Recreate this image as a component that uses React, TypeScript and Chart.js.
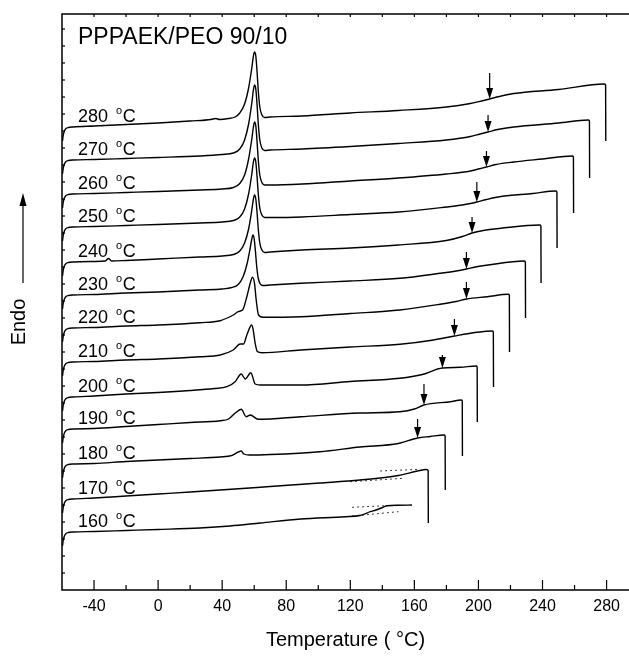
import React, { useEffect, useRef } from 'react';
import { Chart, registerables } from 'chart.js';

Chart.register(...registerables);

const FONT = '"Liberation Sans", Arial, Helvetica, sans-serif';

type Pt = [number, number];

// Annealing temperatures (°C), top to bottom
const annealTemps = [280, 270, 260, 250, 240, 230, 220, 210, 200, 190, 180, 170, 160];

// DSC heating curves: [temperature °C, heat flow (a.u., endo up, shifted for clarity)]
const c280: Pt[] = [[-59.7,449],[-59.2,455],[-58.5,459],[-57.5,461.5],[-56,462.5],[-53,463],[-40,464],[-20,465.5],[0,467],[20,469],[33,470.5],[36,471.5],[38.5,470.5],[44,471.5],[48,473],[51,477],[54,486],[56.5,502],[58.5,522],[59.5,534],[60.2,538],[61,534],[61.8,518],[62.6,498],[63.5,483],[64.8,475],[66.5,472.5],[70,473],[90,474],[120,477],[150,479.5],[180,483],[195,486.5],[202,489],[207,491],[213,493.5],[222,496.5],[250,500.5],[278.5,506],[279.4,505],[279.5,449]];
const c270: Pt[] = [[-59.7,416],[-59.2,422],[-58.5,426],[-57.5,428.5],[-56,429.5],[-53,430],[-40,430.5],[-20,431.5],[0,432.5],[26,434],[40,435.5],[47,437],[51,441],[54,450],[56.5,466],[58.5,487],[59.5,500],[60.2,505],[61,501],[61.8,485],[62.6,465],[63.5,450],[64.8,442],[66.5,439.5],[70,440],[90,441],[120,443.5],[150,446.5],[180,450],[195,453.5],[201,456],[206,458],[212,460.5],[222,463],[250,467],[268.5,470],[269.3,469],[269.4,412]];
const c260: Pt[] = [[-59.7,382],[-59.2,388],[-58.5,392],[-57.5,394.5],[-56,395.5],[-53,396],[-40,396.5],[-20,397.5],[0,398.5],[26,400],[40,401],[47,402.5],[51,406.5],[54,415],[56.5,431],[58.5,451],[59.5,463],[60.2,468],[61,464],[61.8,448],[62.6,429],[63.5,415],[64.8,407.5],[66.5,405],[70,405],[90,406],[120,409],[150,412],[180,416],[195,419],[200,421],[205,423],[211,425.5],[222,428],[240,431],[258.5,434],[259.3,433],[259.4,377]];
const c250: Pt[] = [[-59.7,349],[-59.2,355],[-58.5,359],[-57.5,361.5],[-56,362.5],[-53,363],[-40,363.5],[-20,364.5],[0,365.5],[26,367],[40,368],[47,369.5],[51,373],[54,381],[56.5,396],[58.5,416],[59.5,428],[60.2,432],[61,428],[61.8,413],[62.6,395],[63.5,382],[64.8,375],[66.5,372.5],[70,372.5],[90,373],[120,375.5],[150,378],[180,383],[190,385],[195,386.5],[199,388],[205,390.5],[214,393.5],[234,396.5],[248.2,399],[249,398],[249.1,342]];
const c240: Pt[] = [[-59.7,314],[-59.2,320],[-58.5,324],[-57.5,326.5],[-56,327.5],[-53,328],[-40,328.5],[-33,329],[-31,331.5],[-29,329],[-20,329.5],[0,331],[26,333],[40,334],[47,335.5],[51,339],[54,347],[56.5,361],[58.5,380],[59.5,391],[60.2,395],[61,391],[61.8,377],[62.6,360],[63.5,347],[64.8,340],[66.5,337.5],[70,338],[90,340],[120,342],[150,345],[180,349.5],[190,353.5],[196,357],[203,359.5],[214,361.7],[238.2,365],[239,364],[239.1,307]];
const c230: Pt[] = [[-59.7,281],[-59.2,287],[-58.5,291],[-57.5,293.5],[-56,294.5],[-53,295],[-40,295.5],[-20,297],[0,298],[26,300],[40,301],[46,302.5],[50,305.5],[53,313],[55.5,326],[57.5,342],[58.5,351],[59.2,355],[60,351],[60.8,338],[61.6,323],[62.5,312],[63.8,306],[65.5,304.5],[70,305],[89,306.7],[120,309],[151,311.7],[176,316.7],[186,319],[192.5,321],[198,323],[206,325],[228.5,329],[229.3,328],[229.4,272]];
const c220: Pt[] = [[-59.7,248],[-59.2,254],[-58.5,258],[-57.5,260.5],[-56,261.5],[-53,262],[-40,262.5],[-20,264],[0,265],[26,267.3],[38.75,269.3],[46.9,275],[50,278.3],[53,280.7],[55.4,293.3],[57.5,306.7],[58.9,312.7],[60.2,306.7],[61.25,290],[62.7,275],[65.6,272.7],[89,273.3],[120,276.5],[151,280],[176,285.7],[186,288.5],[192.5,291],[205.6,293.3],[218.6,295.7],[219.3,295],[219.4,238]];
const c210: Pt[] = [[-59.7,214],[-59.2,220],[-58.5,224],[-57.5,226.5],[-56,227.5],[-53,228],[-40,228.5],[-20,230],[0,231],[26,233.3],[38.75,235],[46.9,240],[51.25,246],[53.3,246],[55.4,255],[57.5,263.3],[58.3,265],[59.2,261.7],[60.6,246.7],[62,238.3],[64.8,237.3],[89,240],[120,243],[151,245.7],[172,250],[185,254],[199,257.7],[208.6,259],[209.3,258],[209.4,203]];
const c200: Pt[] = [[-59.7,179],[-59.2,185],[-58.5,189],[-57.5,191.5],[-56,192.5],[-53,193],[-40,194],[-20,196],[0,197.5],[20,199.5],[35,201.5],[43,203.3],[48.1,208.3],[51.9,216],[54.4,211],[57.9,217.3],[60.6,206],[63.75,205],[89,205],[120,208.5],[151,211.7],[165,215.5],[177.5,222],[188.75,222.7],[198.5,224],[199.2,223],[199.3,168]];
const c190: Pt[] = [[-59.7,147],[-59.2,153],[-58.5,157],[-57.5,159.5],[-56,160.5],[-53,161],[-40,161.5],[-20,163.5],[0,165.5],[20,167.5],[38.75,169.3],[44,171],[48,176.7],[51.9,180.7],[55,173.3],[57.5,175],[62.5,170.7],[89,173.3],[126,177],[151,178.3],[160,181],[166,185],[182.5,188.3],[189.2,190],[189.9,189],[190,134]];
const c180: Pt[] = [[-59.7,112],[-59.2,118],[-58.5,122],[-57.5,124.5],[-56,125.5],[-53,126],[-40,126.5],[-20,128.5],[0,130],[20,131.5],[38.75,133],[46,134.5],[50,138],[51.9,139],[53.5,136],[57,135],[70,135.5],[101,138.3],[126,143],[150,146.5],[162,152],[170,153.5],[178.5,155],[179.2,154],[179.3,100]];
const c170: Pt[] = [[-59.7,77],[-59.2,83],[-58.5,87],[-57.5,89.5],[-56,90.5],[-53,91],[-40,92],[-20,94],[0,96],[20,98],[38.75,100],[70,103.5],[101,107],[126,110],[150,114.5],[162,119],[167.5,120.5],[168.6,119.5],[168.7,67]];
const c160: Pt[] = [[-59.7,44],[-59.2,50],[-58.5,54],[-57.5,56.5],[-56,57.5],[-53,58],[-40,58.5],[-20,59.5],[0,60.5],[26,62],[45,64],[63.75,67],[89,71],[117,73.3],[126,74.5],[132.5,78.3],[136,80],[140,82.5],[143,84.3],[150,84.7],[158.5,85]];

const curves: Pt[][] = [c280, c270, c260, c250, c240, c230, c220, c210, c200, c190, c180, c170, c160];

// Tg markers (arrows): temperature and arrow tail value (a.u.)
const tgTemps: (number | null)[] = [207, 206, 205, 199, 196, 192.5, 192.5, 185, 177.5, 166, 162, null, null];
const tgTail: (number | null)[] = [517, 475, 439, 408, 373, 338, 308, 271, 235, 206, 171, null, null];

// Tangent construction lines (dotted)
const tan170Upper: Pt[] = [[138.75, 119], [163.75, 120.7]];
const tan170Lower: Pt[] = [[120, 108.3], [153, 111.7]];
const tan160Upper: Pt[] = [[121.25, 82.7], [141.9, 84.3]];
const tan160Lower: Pt[] = [[121.25, 74], [150, 78.3]];

const sampleTitle = 'PPPAEK/PEO 90/10';
const xTitle = 'Temperature ( °C)';
const yTitle = 'Endo';

function interp(pts: Pt[], t: number): number {
  for (let i = 0; i < pts.length - 1; i++) {
    const [x0, y0] = pts[i];
    const [x1, y1] = pts[i + 1];
    if (t >= x0 && t <= x1) {
      if (x1 === x0) return y0;
      return y0 + ((t - x0) / (x1 - x0)) * (y1 - y0);
    }
  }
  return pts[pts.length - 1][1];
}

const decor = {
  id: 'decor',
  afterDatasetsDraw(chart: any) {
    const { ctx, chartArea: a, scales } = chart;
    const x = scales.x;
    const y = scales.y;
    ctx.save();
    ctx.strokeStyle = '#000';
    ctx.fillStyle = '#000';
    ctx.lineCap = 'butt';

    // frame: top, left, bottom
    ctx.lineWidth = 1.5;
    ctx.beginPath();
    ctx.moveTo(a.right + 2, a.top);
    ctx.lineTo(a.left, a.top);
    ctx.lineTo(a.left, a.bottom);
    ctx.lineTo(a.right + 2, a.bottom);
    ctx.stroke();

    // x ticks (inward)
    ctx.lineWidth = 1.2;
    x.ticks.forEach((t: any) => {
      const px = x.getPixelForValue(t.value);
      if (px <= a.left + 1 || px >= a.right) return;
      const len = t.value % 40 === 0 ? 10 : 5;
      ctx.beginPath();
      ctx.moveTo(px, a.bottom);
      ctx.lineTo(px, a.bottom - len);
      ctx.moveTo(px, a.top);
      ctx.lineTo(px, a.top + 3);
      ctx.stroke();
    });
    // y ticks (inward, left)
    y.ticks.forEach((t: any) => {
      const py = y.getPixelForValue(t.value);
      if (py >= a.bottom - 1 || py <= a.top + 1) return;
      ctx.beginPath();
      ctx.moveTo(a.left, py);
      ctx.lineTo(a.left + 3, py);
      ctx.stroke();
    });

    // Tg arrows
    ctx.lineWidth = 1.2;
    tgTemps.forEach((T, i) => {
      const tail = tgTail[i];
      if (T === null || tail === null) return;
      const tip = interp(curves[i], T);
      const px = x.getPixelForValue(T);
      const tipY = y.getPixelForValue(tip);
      const tailY = y.getPixelForValue(tail);
      ctx.beginPath();
      ctx.moveTo(px, tailY);
      ctx.lineTo(px, tipY - 9);
      ctx.stroke();
      ctx.beginPath();
      ctx.moveTo(px - 3.5, tipY - 11);
      ctx.lineTo(px + 3.5, tipY - 11);
      ctx.lineTo(px, tipY);
      ctx.closePath();
      ctx.fill();
    });

    // curve labels
    ctx.textAlign = 'left';
    ctx.textBaseline = 'alphabetic';
    annealTemps.forEach((temp, i) => {
      const v = interp(curves[i], -53);
      const base = y.getPixelForValue(v) - 5;
      const lx = a.left + 16;
      ctx.font = `18px ${FONT}`;
      const s = `${temp} `;
      ctx.fillText(s, lx, base);
      const w = ctx.measureText(s).width + 3;
      ctx.font = `11px ${FONT}`;
      ctx.fillText('o', lx + w, base - 8);
      const w2 = ctx.measureText('o').width;
      ctx.font = `18px ${FONT}`;
      ctx.fillText('C', lx + w + w2 + 0.5, base);
    });

    // sample title
    ctx.font = `23px ${FONT}`;
    ctx.fillText(sampleTitle, a.left + 16, a.top + 30);

    // Endo label + arrow
    ctx.save();
    ctx.translate(25, 322);
    ctx.rotate(-Math.PI / 2);
    ctx.font = `20px ${FONT}`;
    ctx.textAlign = 'center';
    ctx.fillText(yTitle, 0, 0);
    ctx.restore();
    ctx.lineWidth = 1.2;
    ctx.beginPath();
    ctx.moveTo(23, 283);
    ctx.lineTo(23, 205);
    ctx.stroke();
    ctx.beginPath();
    ctx.moveTo(19.5, 206);
    ctx.lineTo(26.5, 206);
    ctx.lineTo(23, 193);
    ctx.closePath();
    ctx.fill();

    ctx.restore();
  },
};

export default function App() {
  const ref = useRef<HTMLCanvasElement | null>(null);
  useEffect(() => {
    document.body.style.margin = '0';
    document.body.style.overflow = 'hidden';
    const canvas = ref.current;
    if (!canvas) return;
    const curveSets = curves.map((pts, i) => ({
      label: `${annealTemps[i]} °C`,
      data: pts.map(([t, v]) => ({ x: t, y: v })),
      borderColor: '#000',
      borderWidth: 1.4,
      pointRadius: 0,
      fill: false,
      cubicInterpolationMode: 'monotone' as const,
    }));
    const tanSets = [tan170Upper, tan170Lower, tan160Upper, tan160Lower].map((pts, i) => ({
      label: `tangent ${i}`,
      data: pts.map(([t, v]) => ({ x: t, y: v })),
      borderColor: '#000',
      borderWidth: 1,
      borderDash: [1.5, 3.5],
      pointRadius: 0,
      fill: false,
      tension: 0,
    }));
    const chart = new Chart(canvas, {
      type: 'line',
      data: { datasets: [...curveSets, ...tanSets] as any },
      options: {
        animation: false,
        responsive: false,
        events: [],
        layout: { padding: { left: 62, top: 14, right: 0, bottom: 7 } },
        plugins: { legend: { display: false }, tooltip: { enabled: false } },
        scales: {
          x: {
            type: 'linear',
            min: -60,
            max: 294,
            grid: { display: false, drawTicks: false, tickLength: 0 },
            border: { display: false },
            ticks: {
              stepSize: 20,
              includeBounds: false,
              autoSkip: false,
              maxRotation: 0,
              padding: 7,
              color: '#000',
              font: { family: FONT, size: 16 },
              callback: (v: any) => (Number(v) % 40 === 0 ? String(v) : ''),
            },
            title: {
              display: true,
              text: xTitle,
              color: '#000',
              font: { family: FONT, size: 20 },
              padding: { top: 4.8, bottom: 0 },
            },
          },
          y: {
            type: 'linear',
            min: 0,
            max: 576,
            grid: { display: false, drawTicks: false, tickLength: 0 },
            border: { display: false },
            ticks: { display: false, stepSize: 17 },
          },
        },
      },
      plugins: [decor],
    });
    return () => chart.destroy();
  }, []);
  return (
    <div style={{ width: 629, height: 659, background: '#fff' }}>
      <canvas ref={ref} width={629} height={659} />
    </div>
  );
}
